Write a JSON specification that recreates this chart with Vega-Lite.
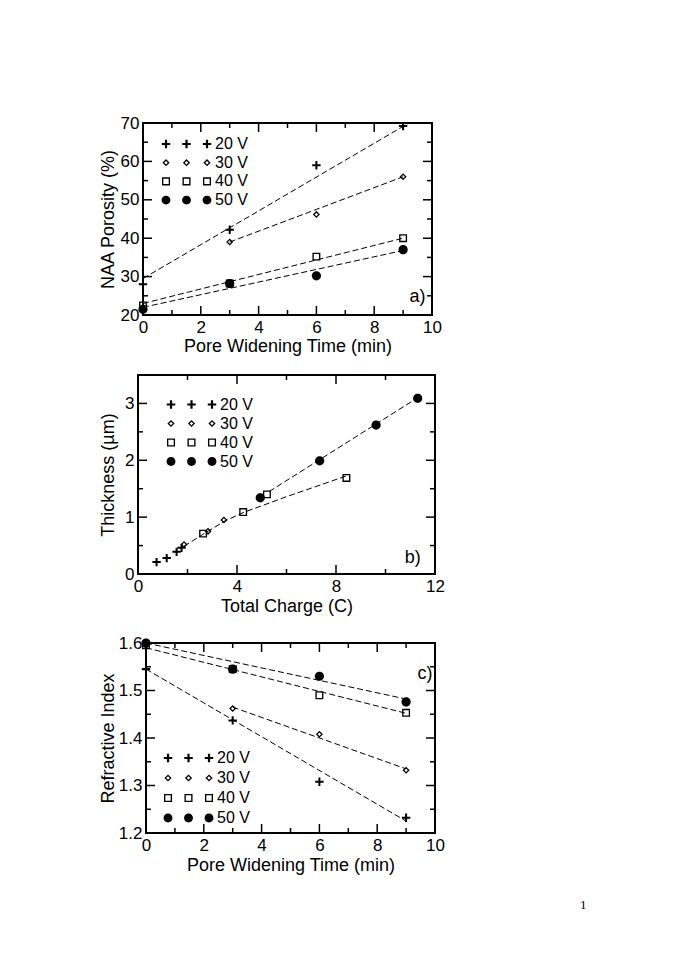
{
  "$schema": "https://vega.github.io/schema/vega-lite/v6.json",
  "background": "white",
  "padding": {"top": 113, "left": 97, "right": 5, "bottom": 5},
  "config": {
    "view": {"stroke": "black", "strokeWidth": 2},
    "font": "Liberation Sans",
    "axis": {"grid": false, "domain": false, "ticks": false, "tickSize": 0, "labelPadding": 4, "labelFont": "Liberation Sans", "labelFontSize": 17, "labelColor": "black", "titleFont": "Liberation Sans", "titleFontSize": 18, "titleFontWeight": "normal", "titleColor": "black", "labelFlush": false, "labelOverlap": false},
    "axisBottom": {"labelPadding": 4},
    "legend": {"labelFont": "Liberation Sans", "labelFontSize": 16, "labelColor": "black", "symbolSize": 72, "symbolStrokeWidth": 0, "symbolFillColor": "black", "rowPadding": 3, "labelOffset": 0, "padding": 0, "title": null},
    "rule": {"color": "black", "strokeWidth": 1.5}
  },
  "datasets": {
    "a_pts": [
      {"series": "20 V", "time": 0, "porosity": 28}, {"series": "20 V", "time": 3, "porosity": 42.2}, {"series": "20 V", "time": 6, "porosity": 59}, {"series": "20 V", "time": 9, "porosity": 69.2},
      {"series": "30 V", "time": 0, "porosity": 22}, {"series": "30 V", "time": 3, "porosity": 39}, {"series": "30 V", "time": 6, "porosity": 46.2}, {"series": "30 V", "time": 9, "porosity": 56},
      {"series": "40 V", "time": 0, "porosity": 22.5}, {"series": "40 V", "time": 3, "porosity": 28.2}, {"series": "40 V", "time": 6, "porosity": 35.2}, {"series": "40 V", "time": 9, "porosity": 40},
      {"series": "50 V", "time": 0, "porosity": 21.5}, {"series": "50 V", "time": 3, "porosity": 28.2}, {"series": "50 V", "time": 6, "porosity": 30.2}, {"series": "50 V", "time": 9, "porosity": 37}
    ],
    "a_fit": [
      {"series": "20 V", "time": 0, "porosity": 29.5}, {"series": "20 V", "time": 9.2, "porosity": 70},
      {"series": "30 V", "time": 3, "porosity": 39}, {"series": "30 V", "time": 9, "porosity": 56},
      {"series": "40 V", "time": 0, "porosity": 23}, {"series": "40 V", "time": 9, "porosity": 40},
      {"series": "50 V", "time": 0, "porosity": 22}, {"series": "50 V", "time": 9, "porosity": 36.8}
    ],
    "b_pts": [
      {"series": "20 V", "charge": 0.75, "thickness": 0.21}, {"series": "20 V", "charge": 1.16, "thickness": 0.28}, {"series": "20 V", "charge": 1.56, "thickness": 0.39}, {"series": "20 V", "charge": 1.76, "thickness": 0.46},
      {"series": "30 V", "charge": 1.86, "thickness": 0.52}, {"series": "30 V", "charge": 2.83, "thickness": 0.75}, {"series": "30 V", "charge": 3.47, "thickness": 0.95},
      {"series": "40 V", "charge": 2.63, "thickness": 0.71}, {"series": "40 V", "charge": 4.25, "thickness": 1.09}, {"series": "40 V", "charge": 5.21, "thickness": 1.4}, {"series": "40 V", "charge": 8.42, "thickness": 1.69},
      {"series": "50 V", "charge": 4.94, "thickness": 1.34}, {"series": "50 V", "charge": 7.34, "thickness": 1.99}, {"series": "50 V", "charge": 9.62, "thickness": 2.62}, {"series": "50 V", "charge": 11.3, "thickness": 3.09}
    ],
    "b_fit": [
      {"line": "A", "charge": 1.86, "thickness": 0.49}, {"line": "A", "charge": 2.6, "thickness": 0.69}, {"line": "A", "charge": 3.5, "thickness": 0.93}, {"line": "A", "charge": 4.25, "thickness": 1.08}, {"line": "A", "charge": 5.0, "thickness": 1.2}, {"line": "A", "charge": 6.0, "thickness": 1.36}, {"line": "A", "charge": 7.0, "thickness": 1.51}, {"line": "A", "charge": 8.45, "thickness": 1.73},
      {"line": "B", "charge": 5.3, "thickness": 1.45}, {"line": "B", "charge": 11.3, "thickness": 3.1}
    ],
    "c_pts": [
      {"series": "20 V", "time": 0, "n": 1.545}, {"series": "20 V", "time": 3, "n": 1.437}, {"series": "20 V", "time": 6, "n": 1.308}, {"series": "20 V", "time": 9, "n": 1.232},
      {"series": "30 V", "time": 0, "n": 1.595}, {"series": "30 V", "time": 3, "n": 1.462}, {"series": "30 V", "time": 6, "n": 1.408}, {"series": "30 V", "time": 9, "n": 1.332},
      {"series": "40 V", "time": 0, "n": 1.595}, {"series": "40 V", "time": 3, "n": 1.545}, {"series": "40 V", "time": 6, "n": 1.49}, {"series": "40 V", "time": 9, "n": 1.453},
      {"series": "50 V", "time": 0, "n": 1.6}, {"series": "50 V", "time": 3, "n": 1.545}, {"series": "50 V", "time": 6, "n": 1.53}, {"series": "50 V", "time": 9, "n": 1.476}
    ],
    "c_fit": [
      {"series": "20 V", "time": 0, "n": 1.545}, {"series": "20 V", "time": 9, "n": 1.225},
      {"series": "30 V", "time": 3, "n": 1.465}, {"series": "30 V", "time": 9, "n": 1.335},
      {"series": "40 V", "time": 0, "n": 1.59}, {"series": "40 V", "time": 9, "n": 1.452},
      {"series": "50 V", "time": 0, "n": 1.6}, {"series": "50 V", "time": 9, "n": 1.482}
    ],
    "t10_major": [{"v": 0}, {"v": 2}, {"v": 4}, {"v": 6}, {"v": 8}, {"v": 10}],
    "t10_minor": [{"v": 1}, {"v": 3}, {"v": 5}, {"v": 7}, {"v": 9}],
    "a_y_major": [{"v": 20}, {"v": 30}, {"v": 40}, {"v": 50}, {"v": 60}, {"v": 70}],
    "a_y_minor": [{"v": 25}, {"v": 35}, {"v": 45}, {"v": 55}, {"v": 65}],
    "b_x_major": [{"v": 0}, {"v": 4}, {"v": 8}, {"v": 12}],
    "b_x_minor": [{"v": 2}, {"v": 6}, {"v": 10}],
    "b_y_major": [{"v": 0}, {"v": 1}, {"v": 2}, {"v": 3}],
    "b_y_minor": [{"v": 0.5}, {"v": 1.5}, {"v": 2.5}],
    "c_y_major": [{"v": 1.2}, {"v": 1.3}, {"v": 1.4}, {"v": 1.5}, {"v": 1.6}],
    "c_y_minor": [{"v": 1.25}, {"v": 1.35}, {"v": 1.45}, {"v": 1.55}]
  },
  "title": {"text": "1", "orient": "bottom", "anchor": "end", "font": "Liberation Serif", "fontSize": 13, "fontWeight": "normal", "color": "black", "dx": 141, "offset": 24},
  "spacing": 17,
  "vconcat": [
    {"spacing": 0, "hconcat": [
      {"width": 1, "height": 1, "data": {"values": []}, "mark": "point", "view": {"stroke": null}},
      {
        "width": 289, "height": 192,
        "resolve": {"axis": {"x": "independent", "y": "independent"}, "scale": {"shape": "independent"}},
        "layer": [
          {
            "data": {"name": "a_pts"},
            "mark": {"type": "point", "size": 70, "filled": true, "color": "black", "strokeWidth": 0, "opacity": 1},
            "encoding": {
              "x": {"field": "time", "type": "quantitative", "scale": {"domain": [0, 10], "nice": false, "zero": false}, "axis": {"orient": "bottom", "title": "Pore Widening Time (min)", "values": [0, 2, 4, 6, 8, 10], "titlePadding": 2}},
              "y": {"field": "porosity", "type": "quantitative", "scale": {"domain": [20, 70], "nice": false, "zero": false}, "axis": {"orient": "left", "title": "NAA Porosity (%)", "values": [20, 30, 40, 50, 60, 70], "titlePadding": 3}},
              "shape": {"field": "series", "type": "nominal", "scale": {"domain": ["20 V", "30 V", "40 V", "50 V"], "range": [
                "M-1,-0.24H-0.24V-1H0.24V-0.24H1V0.24H0.24V1H-0.24V0.24H-1Z",
                "M0,-0.85L0.85,0L0,0.85L-0.85,0ZM0,-0.42L-0.42,0L0,0.42L0.42,0Z",
                "M-0.95,-0.95H0.95V0.95H-0.95ZM-0.63,-0.63V0.63H0.63V-0.63Z",
                "M-1.1,0A1.1,1.1,0,1,0,1.1,0A1.1,1.1,0,1,0,-1.1,0Z"]}, "legend": null}
            }
          },
          {
            "data": {"name": "a_fit"},
            "mark": {"type": "line", "color": "black", "strokeWidth": 1, "strokeDash": [6, 3]},
            "encoding": {
              "x": {"field": "time", "type": "quantitative", "axis": null},
              "y": {"field": "porosity", "type": "quantitative", "axis": null},
              "detail": {"field": "series", "type": "nominal"}
            }
          },
          {
            "data": {"values": [{}]},
            "mark": {"type": "text", "text": "a)", "fontSize": 18, "font": "Liberation Sans", "align": "center", "baseline": "middle", "color": "black"},
            "encoding": {"x": {"datum": 9.5, "type": "quantitative", "axis": null}, "y": {"datum": 24.7, "type": "quantitative", "axis": null}}
          },
          {"data": {"name": "t10_major"}, "mark": {"type": "rule", "y2Offset": -9}, "encoding": {"x": {"field": "v", "type": "quantitative", "axis": null}, "y": {"datum": 20, "type": "quantitative", "axis": null}, "y2": {"datum": 20}}},
          {"data": {"name": "t10_minor"}, "mark": {"type": "rule", "y2Offset": -5}, "encoding": {"x": {"field": "v", "type": "quantitative", "axis": null}, "y": {"datum": 20, "type": "quantitative", "axis": null}, "y2": {"datum": 20}}},
          {"data": {"name": "t10_major"}, "mark": {"type": "rule", "y2Offset": 9}, "encoding": {"x": {"field": "v", "type": "quantitative", "axis": null}, "y": {"datum": 70, "type": "quantitative", "axis": null}, "y2": {"datum": 70}}},
          {"data": {"name": "t10_minor"}, "mark": {"type": "rule", "y2Offset": 5}, "encoding": {"x": {"field": "v", "type": "quantitative", "axis": null}, "y": {"datum": 70, "type": "quantitative", "axis": null}, "y2": {"datum": 70}}},
          {"data": {"name": "a_y_major"}, "mark": {"type": "rule", "x2Offset": 9}, "encoding": {"y": {"field": "v", "type": "quantitative", "axis": null}, "x": {"datum": 0, "type": "quantitative", "axis": null}, "x2": {"datum": 0}}},
          {"data": {"name": "a_y_minor"}, "mark": {"type": "rule", "x2Offset": 5}, "encoding": {"y": {"field": "v", "type": "quantitative", "axis": null}, "x": {"datum": 0, "type": "quantitative", "axis": null}, "x2": {"datum": 0}}},
          {"data": {"name": "a_y_major"}, "mark": {"type": "rule", "x2Offset": -9}, "encoding": {"y": {"field": "v", "type": "quantitative", "axis": null}, "x": {"datum": 10, "type": "quantitative", "axis": null}, "x2": {"datum": 10}}},
          {"data": {"name": "a_y_minor"}, "mark": {"type": "rule", "x2Offset": -5}, "encoding": {"y": {"field": "v", "type": "quantitative", "axis": null}, "x": {"datum": 10, "type": "quantitative", "axis": null}, "x2": {"datum": 10}}},
          {
            "data": {"name": "a_pts"},
            "transform": [{"filter": "false"}],
            "mark": {"type": "point", "filled": true, "color": "black", "strokeWidth": 0, "opacity": 1},
            "encoding": {
              "shape": {"field": "series", "type": "nominal", "scale": {"domain": ["20 V", "30 V", "40 V", "50 V"], "range": [
                "M-10.66,-0.26H-9.92V-1H-9.4V-0.26H-8.66V0.26H-9.4V1H-9.92V0.26H-10.66ZM-5.83,-0.26H-5.09V-1H-4.57V-0.26H-3.83V0.26H-4.57V1H-5.09V0.26H-5.83ZM-1,-0.26H-0.26V-1H0.26V-0.26H1V0.26H0.26V1H-0.26V0.26H-1Z",
                "M-9.66,-0.85L-8.81,0L-9.66,0.85L-10.51,0ZM-9.66,-0.42L-10.08,0L-9.66,0.42L-9.24,0ZM-4.83,-0.85L-3.98,0L-4.83,0.85L-5.68,0ZM-4.83,-0.42L-5.25,0L-4.83,0.42L-4.41,0ZM0,-0.85L0.85,0L0,0.85L-0.85,0ZM0,-0.42L-0.42,0L0,0.42L0.42,0Z",
                "M-10.61,-0.95H-8.71V0.95H-10.61ZM-10.29,-0.63V0.63H-9.03V-0.63ZM-5.78,-0.95H-3.88V0.95H-5.78ZM-5.46,-0.63V0.63H-4.2V-0.63ZM-0.95,-0.95H0.95V0.95H-0.95ZM-0.63,-0.63V0.63H0.63V-0.63Z",
                "M-10.71,0A1.05,1.05,0,1,0,-8.61,0A1.05,1.05,0,1,0,-10.71,0ZM-5.88,0A1.05,1.05,0,1,0,-3.78,0A1.05,1.05,0,1,0,-5.88,0ZM-1.05,0A1.05,1.05,0,1,0,1.05,0A1.05,1.05,0,1,0,-1.05,0Z"]},
                "legend": {"orient": "none", "legendX": 56, "legendY": 13, "rowPadding": 2.7}}
            }
          }
        ]
      }
    ]},
    {"spacing": 0, "hconcat": [
      {"width": 1, "height": 1, "data": {"values": []}, "mark": "point", "view": {"stroke": null}},
      {
        "width": 297, "height": 199,
        "resolve": {"axis": {"x": "independent", "y": "independent"}, "scale": {"shape": "independent"}},
        "layer": [
          {
            "data": {"name": "b_pts"},
            "mark": {"type": "point", "size": 70, "filled": true, "color": "black", "strokeWidth": 0, "opacity": 1},
            "encoding": {
              "x": {"field": "charge", "type": "quantitative", "scale": {"domain": [0, 12], "nice": false, "zero": false}, "axis": {"orient": "bottom", "title": "Total Charge (C)", "values": [0, 4, 8, 12], "titlePadding": 3}},
              "y": {"field": "thickness", "type": "quantitative", "scale": {"domain": [0, 3.5], "nice": false, "zero": false}, "axis": {"orient": "left", "title": "Thickness (µm)", "values": [0, 1, 2, 3], "titlePadding": 7}},
              "shape": {"field": "series", "type": "nominal", "scale": {"domain": ["20 V", "30 V", "40 V", "50 V"], "range": [
                "M-1,-0.24H-0.24V-1H0.24V-0.24H1V0.24H0.24V1H-0.24V0.24H-1Z",
                "M0,-0.85L0.85,0L0,0.85L-0.85,0ZM0,-0.42L-0.42,0L0,0.42L0.42,0Z",
                "M-0.95,-0.95H0.95V0.95H-0.95ZM-0.63,-0.63V0.63H0.63V-0.63Z",
                "M-1.1,0A1.1,1.1,0,1,0,1.1,0A1.1,1.1,0,1,0,-1.1,0Z"]}, "legend": null}
            }
          },
          {
            "data": {"name": "b_fit"},
            "mark": {"type": "line", "color": "black", "strokeWidth": 1, "strokeDash": [6, 3]},
            "encoding": {
              "x": {"field": "charge", "type": "quantitative", "axis": null},
              "y": {"field": "thickness", "type": "quantitative", "axis": null},
              "detail": {"field": "line", "type": "nominal"}
            }
          },
          {
            "data": {"values": [{}]},
            "mark": {"type": "text", "text": "b)", "fontSize": 18, "font": "Liberation Sans", "align": "center", "baseline": "middle", "color": "black"},
            "encoding": {"x": {"datum": 11.1, "type": "quantitative", "axis": null}, "y": {"datum": 0.28, "type": "quantitative", "axis": null}}
          },
          {"data": {"name": "b_x_major"}, "mark": {"type": "rule", "y2Offset": -9}, "encoding": {"x": {"field": "v", "type": "quantitative", "axis": null}, "y": {"datum": 0, "type": "quantitative", "axis": null}, "y2": {"datum": 0}}},
          {"data": {"name": "b_x_minor"}, "mark": {"type": "rule", "y2Offset": -5}, "encoding": {"x": {"field": "v", "type": "quantitative", "axis": null}, "y": {"datum": 0, "type": "quantitative", "axis": null}, "y2": {"datum": 0}}},
          {"data": {"name": "b_x_major"}, "mark": {"type": "rule", "y2Offset": 9}, "encoding": {"x": {"field": "v", "type": "quantitative", "axis": null}, "y": {"datum": 3.5, "type": "quantitative", "axis": null}, "y2": {"datum": 3.5}}},
          {"data": {"name": "b_x_minor"}, "mark": {"type": "rule", "y2Offset": 5}, "encoding": {"x": {"field": "v", "type": "quantitative", "axis": null}, "y": {"datum": 3.5, "type": "quantitative", "axis": null}, "y2": {"datum": 3.5}}},
          {"data": {"name": "b_y_major"}, "mark": {"type": "rule", "x2Offset": 9}, "encoding": {"y": {"field": "v", "type": "quantitative", "axis": null}, "x": {"datum": 0, "type": "quantitative", "axis": null}, "x2": {"datum": 0}}},
          {"data": {"name": "b_y_minor"}, "mark": {"type": "rule", "x2Offset": 5}, "encoding": {"y": {"field": "v", "type": "quantitative", "axis": null}, "x": {"datum": 0, "type": "quantitative", "axis": null}, "x2": {"datum": 0}}},
          {"data": {"name": "b_y_major"}, "mark": {"type": "rule", "x2Offset": -9}, "encoding": {"y": {"field": "v", "type": "quantitative", "axis": null}, "x": {"datum": 12, "type": "quantitative", "axis": null}, "x2": {"datum": 12}}},
          {"data": {"name": "b_y_minor"}, "mark": {"type": "rule", "x2Offset": -5}, "encoding": {"y": {"field": "v", "type": "quantitative", "axis": null}, "x": {"datum": 12, "type": "quantitative", "axis": null}, "x2": {"datum": 12}}},
          {
            "data": {"name": "b_pts"},
            "transform": [{"filter": "false"}],
            "mark": {"type": "point", "filled": true, "color": "black", "strokeWidth": 0, "opacity": 1},
            "encoding": {
              "shape": {"field": "series", "type": "nominal", "scale": {"domain": ["20 V", "30 V", "40 V", "50 V"], "range": [
                "M-10.66,-0.26H-9.92V-1H-9.4V-0.26H-8.66V0.26H-9.4V1H-9.92V0.26H-10.66ZM-5.83,-0.26H-5.09V-1H-4.57V-0.26H-3.83V0.26H-4.57V1H-5.09V0.26H-5.83ZM-1,-0.26H-0.26V-1H0.26V-0.26H1V0.26H0.26V1H-0.26V0.26H-1Z",
                "M-9.66,-0.85L-8.81,0L-9.66,0.85L-10.51,0ZM-9.66,-0.42L-10.08,0L-9.66,0.42L-9.24,0ZM-4.83,-0.85L-3.98,0L-4.83,0.85L-5.68,0ZM-4.83,-0.42L-5.25,0L-4.83,0.42L-4.41,0ZM0,-0.85L0.85,0L0,0.85L-0.85,0ZM0,-0.42L-0.42,0L0,0.42L0.42,0Z",
                "M-10.61,-0.95H-8.71V0.95H-10.61ZM-10.29,-0.63V0.63H-9.03V-0.63ZM-5.78,-0.95H-3.88V0.95H-5.78ZM-5.46,-0.63V0.63H-4.2V-0.63ZM-0.95,-0.95H0.95V0.95H-0.95ZM-0.63,-0.63V0.63H0.63V-0.63Z",
                "M-10.71,0A1.05,1.05,0,1,0,-8.61,0A1.05,1.05,0,1,0,-10.71,0ZM-5.88,0A1.05,1.05,0,1,0,-3.78,0A1.05,1.05,0,1,0,-5.88,0ZM-1.05,0A1.05,1.05,0,1,0,1.05,0A1.05,1.05,0,1,0,-1.05,0Z"]},
                "legend": {"orient": "none", "legendX": 66, "legendY": 21.5, "rowPadding": 3}}
            }
          }
        ]
      }
    ]},
    {"spacing": 0, "hconcat": [
      {"width": 1, "height": 1, "data": {"values": []}, "mark": "point", "view": {"stroke": null}},
      {
        "width": 289, "height": 190,
        "resolve": {"axis": {"x": "independent", "y": "independent"}, "scale": {"shape": "independent"}},
        "layer": [
          {
            "data": {"name": "c_pts"},
            "mark": {"type": "point", "size": 70, "filled": true, "color": "black", "strokeWidth": 0, "opacity": 1},
            "encoding": {
              "x": {"field": "time", "type": "quantitative", "scale": {"domain": [0, 10], "nice": false, "zero": false}, "axis": {"orient": "bottom", "title": "Pore Widening Time (min)", "values": [0, 2, 4, 6, 8, 10], "titlePadding": 3}},
              "y": {"field": "n", "type": "quantitative", "scale": {"domain": [1.2, 1.6], "nice": false, "zero": false}, "axis": {"orient": "left", "title": "Refractive Index", "values": [1.2, 1.3, 1.4, 1.5, 1.6], "format": ".1f", "titlePadding": 1}},
              "shape": {"field": "series", "type": "nominal", "scale": {"domain": ["20 V", "30 V", "40 V", "50 V"], "range": [
                "M-1,-0.24H-0.24V-1H0.24V-0.24H1V0.24H0.24V1H-0.24V0.24H-1Z",
                "M0,-0.85L0.85,0L0,0.85L-0.85,0ZM0,-0.42L-0.42,0L0,0.42L0.42,0Z",
                "M-0.95,-0.95H0.95V0.95H-0.95ZM-0.63,-0.63V0.63H0.63V-0.63Z",
                "M-1.1,0A1.1,1.1,0,1,0,1.1,0A1.1,1.1,0,1,0,-1.1,0Z"]}, "legend": null}
            }
          },
          {
            "data": {"name": "c_fit"},
            "mark": {"type": "line", "color": "black", "strokeWidth": 1, "strokeDash": [6, 3]},
            "encoding": {
              "x": {"field": "time", "type": "quantitative", "axis": null},
              "y": {"field": "n", "type": "quantitative", "axis": null},
              "detail": {"field": "series", "type": "nominal"}
            }
          },
          {
            "data": {"values": [{}]},
            "mark": {"type": "text", "text": "c)", "fontSize": 18, "font": "Liberation Sans", "align": "center", "baseline": "middle", "color": "black"},
            "encoding": {"x": {"datum": 9.65, "type": "quantitative", "axis": null}, "y": {"datum": 1.534, "type": "quantitative", "axis": null}}
          },
          {"data": {"name": "t10_major"}, "mark": {"type": "rule", "y2Offset": -9}, "encoding": {"x": {"field": "v", "type": "quantitative", "axis": null}, "y": {"datum": 1.2, "type": "quantitative", "axis": null}, "y2": {"datum": 1.2}}},
          {"data": {"name": "t10_minor"}, "mark": {"type": "rule", "y2Offset": -5}, "encoding": {"x": {"field": "v", "type": "quantitative", "axis": null}, "y": {"datum": 1.2, "type": "quantitative", "axis": null}, "y2": {"datum": 1.2}}},
          {"data": {"name": "t10_major"}, "mark": {"type": "rule", "y2Offset": 9}, "encoding": {"x": {"field": "v", "type": "quantitative", "axis": null}, "y": {"datum": 1.6, "type": "quantitative", "axis": null}, "y2": {"datum": 1.6}}},
          {"data": {"name": "t10_minor"}, "mark": {"type": "rule", "y2Offset": 5}, "encoding": {"x": {"field": "v", "type": "quantitative", "axis": null}, "y": {"datum": 1.6, "type": "quantitative", "axis": null}, "y2": {"datum": 1.6}}},
          {"data": {"name": "c_y_major"}, "mark": {"type": "rule", "x2Offset": 9}, "encoding": {"y": {"field": "v", "type": "quantitative", "axis": null}, "x": {"datum": 0, "type": "quantitative", "axis": null}, "x2": {"datum": 0}}},
          {"data": {"name": "c_y_minor"}, "mark": {"type": "rule", "x2Offset": 5}, "encoding": {"y": {"field": "v", "type": "quantitative", "axis": null}, "x": {"datum": 0, "type": "quantitative", "axis": null}, "x2": {"datum": 0}}},
          {"data": {"name": "c_y_major"}, "mark": {"type": "rule", "x2Offset": -9}, "encoding": {"y": {"field": "v", "type": "quantitative", "axis": null}, "x": {"datum": 10, "type": "quantitative", "axis": null}, "x2": {"datum": 10}}},
          {"data": {"name": "c_y_minor"}, "mark": {"type": "rule", "x2Offset": -5}, "encoding": {"y": {"field": "v", "type": "quantitative", "axis": null}, "x": {"datum": 10, "type": "quantitative", "axis": null}, "x2": {"datum": 10}}},
          {
            "data": {"name": "c_pts"},
            "transform": [{"filter": "false"}],
            "mark": {"type": "point", "filled": true, "color": "black", "strokeWidth": 0, "opacity": 1},
            "encoding": {
              "shape": {"field": "series", "type": "nominal", "scale": {"domain": ["20 V", "30 V", "40 V", "50 V"], "range": [
                "M-10.66,-0.26H-9.92V-1H-9.4V-0.26H-8.66V0.26H-9.4V1H-9.92V0.26H-10.66ZM-5.83,-0.26H-5.09V-1H-4.57V-0.26H-3.83V0.26H-4.57V1H-5.09V0.26H-5.83ZM-1,-0.26H-0.26V-1H0.26V-0.26H1V0.26H0.26V1H-0.26V0.26H-1Z",
                "M-9.66,-0.85L-8.81,0L-9.66,0.85L-10.51,0ZM-9.66,-0.42L-10.08,0L-9.66,0.42L-9.24,0ZM-4.83,-0.85L-3.98,0L-4.83,0.85L-5.68,0ZM-4.83,-0.42L-5.25,0L-4.83,0.42L-4.41,0ZM0,-0.85L0.85,0L0,0.85L-0.85,0ZM0,-0.42L-0.42,0L0,0.42L0.42,0Z",
                "M-10.61,-0.95H-8.71V0.95H-10.61ZM-10.29,-0.63V0.63H-9.03V-0.63ZM-5.78,-0.95H-3.88V0.95H-5.78ZM-5.46,-0.63V0.63H-4.2V-0.63ZM-0.95,-0.95H0.95V0.95H-0.95ZM-0.63,-0.63V0.63H0.63V-0.63Z",
                "M-10.71,0A1.05,1.05,0,1,0,-8.61,0A1.05,1.05,0,1,0,-10.71,0ZM-5.88,0A1.05,1.05,0,1,0,-3.78,0A1.05,1.05,0,1,0,-5.88,0ZM-1.05,0A1.05,1.05,0,1,0,1.05,0A1.05,1.05,0,1,0,-1.05,0Z"]},
                "legend": {"orient": "none", "legendX": 55, "legendY": 107, "rowPadding": 4}}
            }
          }
        ]
      }
    ]}
  ]
}
